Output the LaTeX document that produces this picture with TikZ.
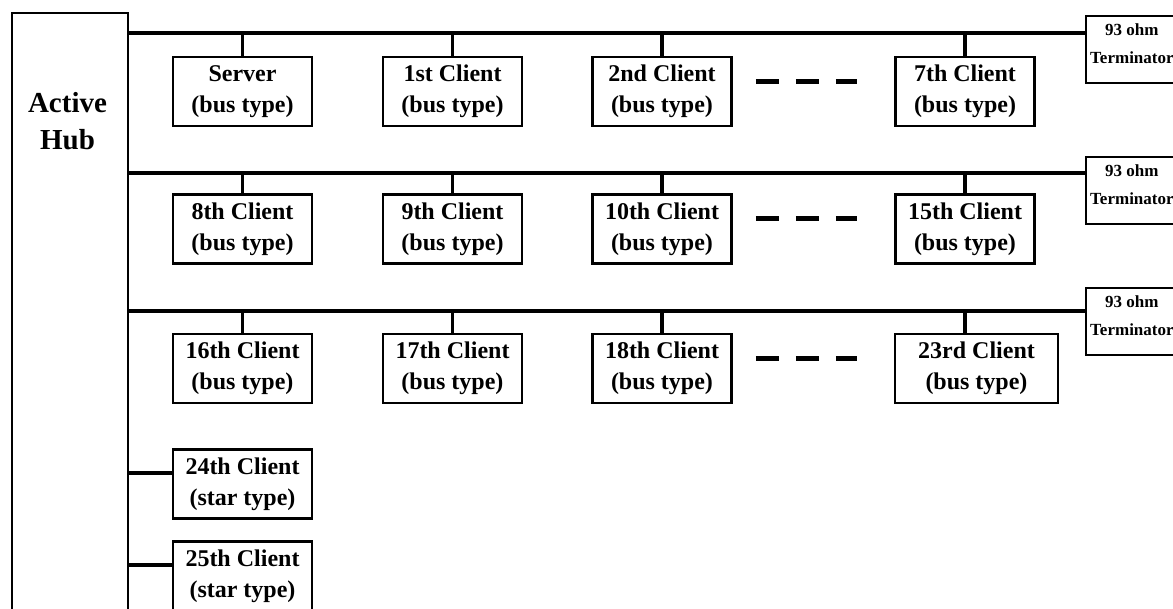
\documentclass[tikz,border=0pt]{standalone}
\usepackage{fontspec}
\setmainfont{Liberation Serif}
\usetikzlibrary{positioning}

\tikzset{
  client/.style={draw, line width=2.8pt, minimum width=139pt, minimum height=69pt,
    inner sep=0pt, align=center, font=\fontsize{24}{31}\selectfont\bfseries},
  termbox/.style={draw, line width=2.8pt, minimum width=92pt, minimum height=67pt,
    inner sep=0pt, anchor=north west},
  termtext/.style={inner sep=0pt, align=center, font=\fontsize{17}{28}\selectfont\bfseries},
  wire/.style={line width=3.2pt},
  etc/.style={line width=5pt, dash pattern=on 23pt off 17pt},
}

\begin{document}
\begin{tikzpicture}[x=1pt,y=-1pt]
    \useasboundingbox (0,0) rectangle (1173,608);
    \clip (0,0) rectangle (1173,608);

    % hub, running off the bottom edge
    \node[draw, line width=2.8pt, minimum width=116pt, minimum height=640pt,
      anchor=north west, inner sep=0pt] (hub) at (10.5,11.5) {};
    \node[font=\fontsize{29}{37}\selectfont\bfseries, align=center] (hubname) at (67.5,121) {Active\\Hub};

    % three buses, each ending in a terminator
    \foreach \r/\y/\ty in {1/33/14.5, 2/173/155.5, 3/311/286.5} {
      \node[termbox] (term\r) at (1084.5,\ty) {};
      \node[termtext, below=9pt of term\r.north] (termtxt\r) {93 ohm\\Terminator};
      \coordinate (bus\r) at (hub.east |- 0,\y);
      \draw[wire] (bus\r) -- (bus\r -| term\r.west);
    }

    % bus type clients
    \foreach \n/\x/\y/\r/\txt in {srv/242.5/91.5/1/Server, c1/452.5/91.5/1/1st Client,
        c2/662/91.5/1/2nd Client, c7/965/91.5/1/7th Client,
        c8/242.5/229/2/8th Client, c9/452.5/229/2/9th Client,
        c10/662/229/2/10th Client, c15/965/229/2/15th Client,
        c16/242.5/368.5/3/16th Client, c17/452.5/368.5/3/17th Client,
        c18/662/368.5/3/18th Client} {
      \node[client] (\n) at (\x,\y) {\txt\\(bus type)};
      \draw[wire] (\n.north) -- (\n.north |- bus\r);
    }
    \node[client, minimum width=163pt] (c23) at (976.5,368.5) {23rd Client\\(bus type)};
    \draw[wire] (c23.north -| c15) -- (bus3 -| c15);

    % the clients left out
    \draw[etc] ([xshift=23pt,yshift=10.5pt]c2.east) -- ([xshift=-37pt,yshift=10.5pt]c7.west);
    \draw[etc] ([xshift=23pt,yshift=10.5pt]c10.east) -- ([xshift=-37pt,yshift=10.5pt]c15.west);
    \draw[etc] ([xshift=23pt,yshift=10.5pt]c18.east) -- ([xshift=-37pt,yshift=10.5pt]c15.west |- c23);

    % star type clients
    \node[client] (c24) at (242.5,484) {24th Client\\(star type)};
    \node[client] (c25) at (242.5,576) {25th Client\\(star type)};
    \foreach \n in {c24,c25} \draw[wire] ([yshift=11pt]\n.west) coordinate (j) -- (j -| hub.east);
\end{tikzpicture}
\end{document}
